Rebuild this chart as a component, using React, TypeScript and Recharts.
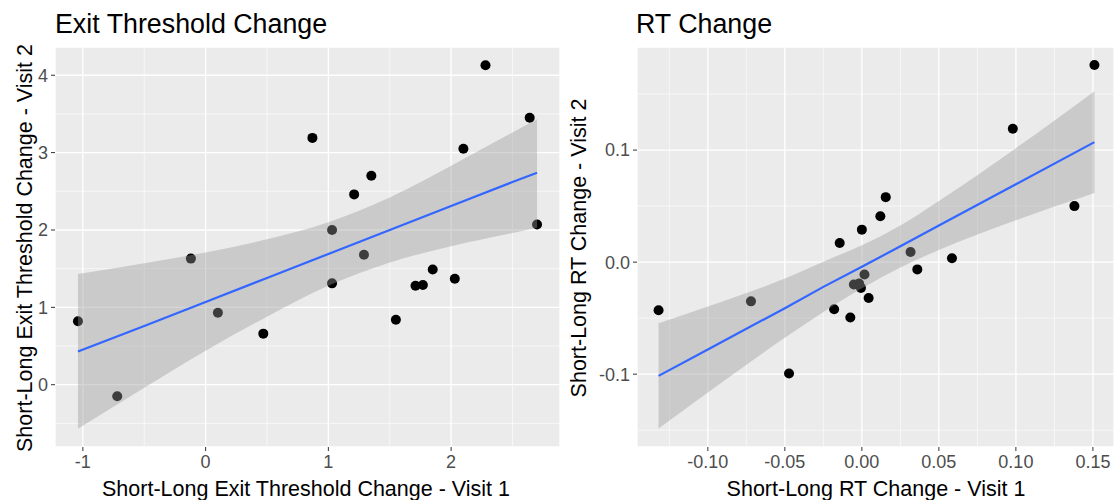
import React from "react";
import {
  ComposedChart,
  Scatter,
  Area,
  Line,
  XAxis,
  YAxis,
  CartesianGrid,
} from "recharts";

// ---------- Exit Threshold Change ----------
const exitVisit1 = [2.28, 2.64, 0.87, 2.10, 1.35, 1.21, 1.03, 2.70, 1.29, -0.12, 1.03, 1.71, 1.77, 1.85, 2.03, 1.55, -1.04, 0.10, 0.47, -0.72];
const exitVisit2 = [4.13, 3.45, 3.19, 3.05, 2.70, 2.46, 2.00, 2.07, 1.68, 1.63, 1.31, 1.28, 1.29, 1.49, 1.37, 0.84, 0.82, 0.93, 0.66, -0.15];
const exitBandX = [-1.04, -0.5, 0, 0.5, 1.0, 1.5, 2.0, 2.5, 2.70];
const exitBandLow = [-0.57, -0.04, 0.44, 0.88, 1.28, 1.58, 1.79, 1.96, 2.03];
const exitBandHigh = [1.43, 1.57, 1.71, 1.88, 2.10, 2.42, 2.83, 3.26, 3.43];
const exitFit = [0.43, 0.76, 1.07, 1.38, 1.69, 2.00, 2.31, 2.62, 2.74];
const exitXTicks = [-1, 0, 1, 2];
const exitYTicks = [0, 1, 2, 3, 4];
const exitXMinor = [-0.5, 0.5, 1.5, 2.5];
const exitYMinor = [-0.5, 0.5, 1.5, 2.5, 3.5];

// ---------- RT Change ----------
const rtVisit1 = [0.151, 0.098, 0.138, 0.0155, 0.012, 0.000, -0.0144, 0.0316, 0.0585, 0.036, 0.0017, -0.0052, -0.0018, -0.0006, 0.0044, -0.018, -0.0075, -0.072, -0.132, -0.0473];
const rtVisit2 = [0.176, 0.119, 0.050, 0.058, 0.041, 0.029, 0.017, 0.009, 0.0034, -0.0065, -0.011, -0.020, -0.019, -0.023, -0.032, -0.042, -0.0495, -0.035, -0.043, -0.0994];
const rtBandX = [-0.132, -0.1, -0.05, -0.025, 0, 0.025, 0.05, 0.1, 0.151];
const rtBandLow = [-0.1485, -0.1163, -0.0676, -0.0446, -0.0234, -0.0047, 0.0108, 0.0373, 0.0617];
const rtBandHigh = [-0.0545, -0.0395, -0.0146, 0.0004, 0.0150, 0.0327, 0.0546, 0.1017, 0.1525];
const rtFit = [-0.1015, -0.0779, -0.0411, -0.0221, -0.0042, 0.0142, 0.0327, 0.0695, 0.1071];
const rtXTicks = [-0.1, -0.05, 0, 0.05, 0.1, 0.15];
const rtYTicks = [-0.1, 0, 0.1];
const rtXMinor = [-0.125, -0.075, -0.025, 0.025, 0.075, 0.125];
const rtYMinor = [-0.15, -0.05, 0.05, 0.15];

const FONT = "'Liberation Sans', Arial, Helvetica, sans-serif";

const toPoints = (xs: number[], ys: number[]) => xs.map((x, i) => ({ x, y: ys[i] }));
const toBand = (xs: number[], lo: number[], hi: number[], fit: number[]) =>
  xs.map((x, i) => ({ x, lo: lo[i], hi: hi[i], fit: fit[i] }));

const Dot = (props: any) => {
  const { cx, cy } = props;
  if (cx == null || cy == null) return null;
  return <circle cx={cx} cy={cy} r={5} fill="#000000" />;
};

type PanelProps = {
  left: number;
  width: number;
  yAxisWidth: number;
  xDomain: [number, number];
  yDomain: [number, number];
  xTicks: number[];
  yTicks: number[];
  xMinor: number[];
  yMinor: number[];
  xFmt: (v: number) => string;
  yFmt: (v: number) => string;
  points: { x: number; y: number }[];
  band: { x: number; lo: number; hi: number; fit: number }[];
};

function Panel(p: PanelProps) {
  const tickStyle = { fill: "#4D4D4D", fontSize: 18, fontFamily: FONT };
  return (
    <div style={{ position: "absolute", left: p.left, top: 0 }}>
      <ComposedChart
        width={p.width}
        height={500}
        data={p.band}
        margin={{ top: 47, right: 0, bottom: 0, left: 0 }}
      >
        <CartesianGrid
          fill="#EBEBEB"
          stroke="#FFFFFF"
          strokeWidth={0.6}
          verticalValues={p.xMinor}
          horizontalValues={p.yMinor}
        />
        <CartesianGrid stroke="#FFFFFF" strokeWidth={1.3} fill="none" />
        <XAxis
          type="number"
          dataKey="x"
          domain={p.xDomain}
          ticks={p.xTicks}
          interval={0}
          allowDataOverflow
          tickFormatter={p.xFmt}
          height={53}
          tickSize={4}
          tickMargin={4}
          axisLine={false}
          tickLine={{ stroke: "#333333" }}
          tick={tickStyle}
        />
        <YAxis
          type="number"
          dataKey="y"
          domain={p.yDomain}
          ticks={p.yTicks}
          interval={0}
          allowDataOverflow
          tickFormatter={p.yFmt}
          width={p.yAxisWidth}
          tickSize={4}
          tickMargin={3}
          axisLine={false}
          tickLine={{ stroke: "#333333" }}
          tick={tickStyle}
        />
        <Scatter data={p.points} shape={Dot} isAnimationActive={false} />
        <Area
          dataKey={(d: any) => [d.lo, d.hi]}
          type="monotone"
          stroke="none"
          fill="#999999"
          fillOpacity={0.4}
          isAnimationActive={false}
          zIndex={650}
        />
        <Line
          dataKey="fit"
          type="linear"
          stroke="#3366FF"
          strokeWidth={2.2}
          dot={false}
          isAnimationActive={false}
          zIndex={700}
        />
      </ComposedChart>
    </div>
  );
}

export default function App() {
  const exitPoints = toPoints(exitVisit1, exitVisit2);
  const exitBand = toBand(exitBandX, exitBandLow, exitBandHigh, exitFit);
  const rtPoints = toPoints(rtVisit1, rtVisit2);
  const rtBand = toBand(rtBandX, rtBandLow, rtBandHigh, rtFit);

  return (
    <div
      style={{
        position: "absolute",
        left: 0,
        top: 0,
        width: 1114,
        height: 500,
        overflow: "hidden",
        background: "#FFFFFF",
      }}
    >
      <Panel
        left={0}
        width={560}
        yAxisWidth={55}
        xDomain={[-1.227, 2.887]}
        yDomain={[-0.805, 4.365]}
        xTicks={exitXTicks}
        yTicks={exitYTicks}
        xMinor={exitXMinor}
        yMinor={exitYMinor}
        xFmt={(v) => String(v)}
        yFmt={(v) => String(v)}
        points={exitPoints}
        band={exitBand}
      />
      <Panel
        left={560}
        width={554}
        yAxisWidth={77}
        xDomain={[-0.146, 0.1637]}
        yDomain={[-0.165, 0.192]}
        xTicks={rtXTicks}
        yTicks={rtYTicks}
        xMinor={rtXMinor}
        yMinor={rtYMinor}
        xFmt={(v) => v.toFixed(2)}
        yFmt={(v) => v.toFixed(1)}
        points={rtPoints}
        band={rtBand}
      />
      <svg
        width={1114}
        height={500}
        style={{ position: "absolute", left: 0, top: 0, pointerEvents: "none" }}
      >
        <g fontFamily={FONT} fill="#000000">
          <text x={55} y={33} fontSize={26.8}>Exit Threshold Change</text>
          <text x={636} y={33} fontSize={26.8}>RT Change</text>
          <text x={306} y={496} fontSize={21.5} textAnchor="middle">
            Short-Long Exit Threshold Change - Visit 1
          </text>
          <text x={876} y={496} fontSize={21.5} textAnchor="middle">
            Short-Long RT Change - Visit 1
          </text>
          <text
            x={0}
            y={0}
            fontSize={21.5}
            textAnchor="middle"
            transform="translate(32 248) rotate(-90)"
          >
            Short-Long Exit Threshold Change - Visit 2
          </text>
          <text
            x={0}
            y={0}
            fontSize={21.5}
            textAnchor="middle"
            transform="translate(586 248) rotate(-90)"
          >
            Short-Long RT Change - Visit 2
          </text>
        </g>
      </svg>
    </div>
  );
}
